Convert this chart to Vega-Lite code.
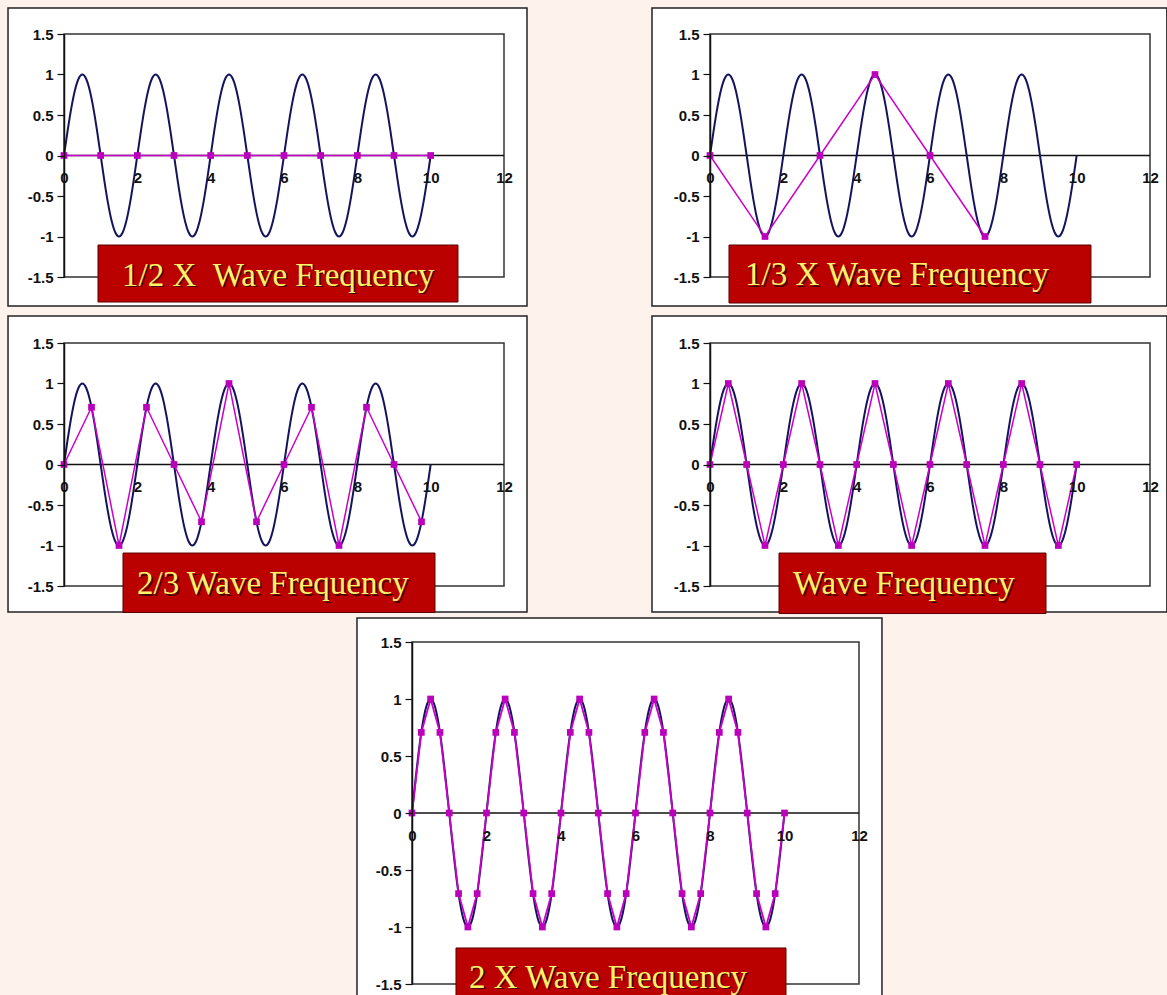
{
"$schema": "https://vega.github.io/schema/vega-lite/v6.json",
"background": "#fdf2ec",
"padding": {"left": 7, "top": 7, "right": 0, "bottom": 0},
"datasets": {
"sine": [
{"x":0,"y":0},{"x":0.1,"y":0.309},{"x":0.2,"y":0.588},{"x":0.3,"y":0.809},{"x":0.4,"y":0.951},{"x":0.5,"y":1},{"x":0.6,"y":0.951},{"x":0.7,"y":0.809},{"x":0.8,"y":0.588},{"x":0.9,"y":0.309},
{"x":1,"y":0},{"x":1.1,"y":-0.309},{"x":1.2,"y":-0.588},{"x":1.3,"y":-0.809},{"x":1.4,"y":-0.951},{"x":1.5,"y":-1},{"x":1.6,"y":-0.951},{"x":1.7,"y":-0.809},{"x":1.8,"y":-0.588},{"x":1.9,"y":-0.309},
{"x":2,"y":0},{"x":2.1,"y":0.309},{"x":2.2,"y":0.588},{"x":2.3,"y":0.809},{"x":2.4,"y":0.951},{"x":2.5,"y":1},{"x":2.6,"y":0.951},{"x":2.7,"y":0.809},{"x":2.8,"y":0.588},{"x":2.9,"y":0.309},
{"x":3,"y":0},{"x":3.1,"y":-0.309},{"x":3.2,"y":-0.588},{"x":3.3,"y":-0.809},{"x":3.4,"y":-0.951},{"x":3.5,"y":-1},{"x":3.6,"y":-0.951},{"x":3.7,"y":-0.809},{"x":3.8,"y":-0.588},{"x":3.9,"y":-0.309},
{"x":4,"y":0},{"x":4.1,"y":0.309},{"x":4.2,"y":0.588},{"x":4.3,"y":0.809},{"x":4.4,"y":0.951},{"x":4.5,"y":1},{"x":4.6,"y":0.951},{"x":4.7,"y":0.809},{"x":4.8,"y":0.588},{"x":4.9,"y":0.309},
{"x":5,"y":0},{"x":5.1,"y":-0.309},{"x":5.2,"y":-0.588},{"x":5.3,"y":-0.809},{"x":5.4,"y":-0.951},{"x":5.5,"y":-1},{"x":5.6,"y":-0.951},{"x":5.7,"y":-0.809},{"x":5.8,"y":-0.588},{"x":5.9,"y":-0.309},
{"x":6,"y":0},{"x":6.1,"y":0.309},{"x":6.2,"y":0.588},{"x":6.3,"y":0.809},{"x":6.4,"y":0.951},{"x":6.5,"y":1},{"x":6.6,"y":0.951},{"x":6.7,"y":0.809},{"x":6.8,"y":0.588},{"x":6.9,"y":0.309},
{"x":7,"y":0},{"x":7.1,"y":-0.309},{"x":7.2,"y":-0.588},{"x":7.3,"y":-0.809},{"x":7.4,"y":-0.951},{"x":7.5,"y":-1},{"x":7.6,"y":-0.951},{"x":7.7,"y":-0.809},{"x":7.8,"y":-0.588},{"x":7.9,"y":-0.309},
{"x":8,"y":0},{"x":8.1,"y":0.309},{"x":8.2,"y":0.588},{"x":8.3,"y":0.809},{"x":8.4,"y":0.951},{"x":8.5,"y":1},{"x":8.6,"y":0.951},{"x":8.7,"y":0.809},{"x":8.8,"y":0.588},{"x":8.9,"y":0.309},
{"x":9,"y":0},{"x":9.1,"y":-0.309},{"x":9.2,"y":-0.588},{"x":9.3,"y":-0.809},{"x":9.4,"y":-0.951},{"x":9.5,"y":-1},{"x":9.6,"y":-0.951},{"x":9.7,"y":-0.809},{"x":9.8,"y":-0.588},{"x":9.9,"y":-0.309},
{"x":10,"y":0}
],
"half": [
{"x":0,"y":0},{"x":1,"y":0},{"x":2,"y":0},{"x":3,"y":0},{"x":4,"y":0},{"x":5,"y":0},{"x":6,"y":0},{"x":7,"y":0},{"x":8,"y":0},{"x":9,"y":0},{"x":10,"y":0}
],
"third": [
{"x":0,"y":0},{"x":1.5,"y":-1},{"x":3,"y":0},{"x":4.5,"y":1},{"x":6,"y":0},{"x":7.5,"y":-1}
],
"twothirds": [
{"x":0,"y":0},{"x":0.75,"y":0.707},{"x":1.5,"y":-1},{"x":2.25,"y":0.707},{"x":3,"y":0},{"x":3.75,"y":-0.707},{"x":4.5,"y":1},{"x":5.25,"y":-0.707},{"x":6,"y":0},{"x":6.75,"y":0.707},{"x":7.5,"y":-1},{"x":8.25,"y":0.707},{"x":9,"y":0},{"x":9.75,"y":-0.707}
],
"single": [
{"x":0,"y":0},{"x":0.5,"y":1},{"x":1,"y":0},{"x":1.5,"y":-1},{"x":2,"y":0},{"x":2.5,"y":1},{"x":3,"y":0},{"x":3.5,"y":-1},{"x":4,"y":0},{"x":4.5,"y":1},{"x":5,"y":0},{"x":5.5,"y":-1},{"x":6,"y":0},{"x":6.5,"y":1},{"x":7,"y":0},{"x":7.5,"y":-1},{"x":8,"y":0},{"x":8.5,"y":1},{"x":9,"y":0},{"x":9.5,"y":-1},{"x":10,"y":0}
],
"double": [
{"x":0,"y":0},{"x":0.25,"y":0.707},{"x":0.5,"y":1},{"x":0.75,"y":0.707},{"x":1,"y":0},{"x":1.25,"y":-0.707},{"x":1.5,"y":-1},{"x":1.75,"y":-0.707},
{"x":2,"y":0},{"x":2.25,"y":0.707},{"x":2.5,"y":1},{"x":2.75,"y":0.707},{"x":3,"y":0},{"x":3.25,"y":-0.707},{"x":3.5,"y":-1},{"x":3.75,"y":-0.707},
{"x":4,"y":0},{"x":4.25,"y":0.707},{"x":4.5,"y":1},{"x":4.75,"y":0.707},{"x":5,"y":0},{"x":5.25,"y":-0.707},{"x":5.5,"y":-1},{"x":5.75,"y":-0.707},
{"x":6,"y":0},{"x":6.25,"y":0.707},{"x":6.5,"y":1},{"x":6.75,"y":0.707},{"x":7,"y":0},{"x":7.25,"y":-0.707},{"x":7.5,"y":-1},{"x":7.75,"y":-0.707},
{"x":8,"y":0},{"x":8.25,"y":0.707},{"x":8.5,"y":1},{"x":8.75,"y":0.707},{"x":9,"y":0},{"x":9.25,"y":-0.707},{"x":9.5,"y":-1},{"x":9.75,"y":-0.707},
{"x":10,"y":0}
]
},
"config": {
"view": {"stroke": null},
"axis": {"grid": false, "labelFont": "Liberation Sans", "labelFontSize": 15, "labelFontWeight": "bold", "labelColor": "#111111", "domainColor": "#111111", "tickColor": "#111111", "domainWidth": 1.5, "tickWidth": 1.2},
"axisX": {"domain": false, "ticks": false, "labelPadding": 15, "labelFlush": false},
"axisY": {"tickSize": 7, "labelPadding": 4},
"line": {"strokeCap": "butt"}
},
"spacing": 2,
"vconcat": [
{"spacing": 8, "vconcat": [
{"spacing": 123, "hconcat": [
{"width": 440, "height": 243, "layer": [
{"data": {"values": [{}]}, "mark": {"type": "rect", "fill": "#ffffff", "stroke": "#222222", "strokeWidth": 1.5},
 "encoding": {"x": {"datum": -1.527, "type": "quantitative", "scale": {"domain": [0, 12], "nice": false}, "axis": {"title": null, "zindex": 1, "values": [0,2,4,6,8,10,12], "labelExpr": "'' + datum.value", "offset": -121.5}},
  "x2": {"datum": 12.627},
  "y": {"datum": 1.821, "type": "quantitative", "scale": {"domain": [-1.5, 1.5], "nice": false}, "axis": {"title": null, "zindex": 1, "values": [-1.5,-1,-0.5,0,0.5,1,1.5], "labelExpr": "'' + datum.value"}},
  "y2": {"datum": -1.858}}},
{"data": {"values": [{}]}, "mark": {"type": "rect", "filled": false, "stroke": "#333333", "strokeWidth": 1.5},
 "encoding": {"x": {"datum": 0, "type": "quantitative", "scale": {"domain": [0, 12], "nice": false}}, "x2": {"datum": 12},
  "y": {"datum": -1.5, "type": "quantitative", "scale": {"domain": [-1.5, 1.5], "nice": false}}, "y2": {"datum": 1.5}}},
{"data": {"values": [{}]}, "mark": {"type": "rule", "color": "#111111", "strokeWidth": 1.5},
 "encoding": {"x": {"datum": 0, "type": "quantitative", "scale": {"domain": [0, 12], "nice": false}}, "x2": {"datum": 12},
  "y": {"datum": 0, "type": "quantitative", "scale": {"domain": [-1.5, 1.5], "nice": false}}}},
{"data": {"name": "sine"}, "mark": {"type": "line", "color": "#14145e", "strokeWidth": 2, "interpolate": "monotone"},
 "encoding": {"x": {"field": "x", "type": "quantitative", "scale": {"domain": [0, 12], "nice": false}}, "y": {"field": "y", "type": "quantitative", "scale": {"domain": [-1.5, 1.5], "nice": false}}}},
{"data": {"name": "half"}, "mark": {"type": "line", "color": "#cc00cc", "strokeWidth": 1.5},
 "encoding": {"x": {"field": "x", "type": "quantitative", "scale": {"domain": [0, 12], "nice": false}}, "y": {"field": "y", "type": "quantitative", "scale": {"domain": [-1.5, 1.5], "nice": false}}}},
{"data": {"name": "half"}, "mark": {"type": "square", "color": "#bb00bb", "size": 45, "opacity": 1},
 "encoding": {"x": {"field": "x", "type": "quantitative", "scale": {"domain": [0, 12], "nice": false}}, "y": {"field": "y", "type": "quantitative", "scale": {"domain": [-1.5, 1.5], "nice": false}}}},
{"data": {"values": [{}]}, "mark": {"type": "rect", "fill": "#bb0000", "stroke": "#5a0000", "strokeWidth": 1},
 "encoding": {"x": {"datum": 0.927, "type": "quantitative", "scale": {"domain": [0, 12], "nice": false}}, "x2": {"datum": 10.745},
  "y": {"datum": -1.105, "type": "quantitative", "scale": {"domain": [-1.5, 1.5], "nice": false}}, "y2": {"datum": -1.809}}},
{"data": {"values": [{}]}, "mark": {"type": "text", "text": "1/2 X \u00a0Wave Frequency", "font": "Liberation Serif", "fontSize": 33, "color": "#4a0000", "dx": 1.5, "dy": 1.5, "align": "left", "baseline": "alphabetic"},
 "encoding": {"x": {"datum": 1.582, "type": "quantitative", "scale": {"domain": [0, 12], "nice": false}},
  "y": {"datum": -1.611, "type": "quantitative", "scale": {"domain": [-1.5, 1.5], "nice": false}}}},
{"data": {"values": [{}]}, "mark": {"type": "text", "text": "1/2 X \u00a0Wave Frequency", "font": "Liberation Serif", "fontSize": 33, "color": "#fff36a", "align": "left", "baseline": "alphabetic"},
 "encoding": {"x": {"datum": 1.582, "type": "quantitative", "scale": {"domain": [0, 12], "nice": false}},
  "y": {"datum": -1.611, "type": "quantitative", "scale": {"domain": [-1.5, 1.5], "nice": false}}}}
]},
{"width": 440, "height": 243, "layer": [
{"data": {"values": [{}]}, "mark": {"type": "rect", "fill": "#ffffff", "stroke": "#222222", "strokeWidth": 1.5},
 "encoding": {"x": {"datum": -1.582, "type": "quantitative", "scale": {"domain": [0, 12], "nice": false}, "axis": {"title": null, "zindex": 1, "values": [0,2,4,6,8,10,12], "labelExpr": "'' + datum.value", "offset": -121.5}},
  "x2": {"datum": 12.46},
  "y": {"datum": 1.821, "type": "quantitative", "scale": {"domain": [-1.5, 1.5], "nice": false}, "axis": {"title": null, "zindex": 1, "values": [-1.5,-1,-0.5,0,0.5,1,1.5], "labelExpr": "'' + datum.value"}},
  "y2": {"datum": -1.858}}},
{"data": {"values": [{}]}, "mark": {"type": "rect", "filled": false, "stroke": "#333333", "strokeWidth": 1.5},
 "encoding": {"x": {"datum": 0, "type": "quantitative", "scale": {"domain": [0, 12], "nice": false}}, "x2": {"datum": 12},
  "y": {"datum": -1.5, "type": "quantitative", "scale": {"domain": [-1.5, 1.5], "nice": false}}, "y2": {"datum": 1.5}}},
{"data": {"values": [{}]}, "mark": {"type": "rule", "color": "#111111", "strokeWidth": 1.5},
 "encoding": {"x": {"datum": 0, "type": "quantitative", "scale": {"domain": [0, 12], "nice": false}}, "x2": {"datum": 12},
  "y": {"datum": 0, "type": "quantitative", "scale": {"domain": [-1.5, 1.5], "nice": false}}}},
{"data": {"name": "sine"}, "mark": {"type": "line", "color": "#14145e", "strokeWidth": 2, "interpolate": "monotone"},
 "encoding": {"x": {"field": "x", "type": "quantitative", "scale": {"domain": [0, 12], "nice": false}}, "y": {"field": "y", "type": "quantitative", "scale": {"domain": [-1.5, 1.5], "nice": false}}}},
{"data": {"name": "third"}, "mark": {"type": "line", "color": "#cc00cc", "strokeWidth": 1.5},
 "encoding": {"x": {"field": "x", "type": "quantitative", "scale": {"domain": [0, 12], "nice": false}}, "y": {"field": "y", "type": "quantitative", "scale": {"domain": [-1.5, 1.5], "nice": false}}}},
{"data": {"name": "third"}, "mark": {"type": "square", "color": "#bb00bb", "size": 45, "opacity": 1},
 "encoding": {"x": {"field": "x", "type": "quantitative", "scale": {"domain": [0, 12], "nice": false}}, "y": {"field": "y", "type": "quantitative", "scale": {"domain": [-1.5, 1.5], "nice": false}}}},
{"data": {"values": [{}]}, "mark": {"type": "rect", "fill": "#bb0000", "stroke": "#5a0000", "strokeWidth": 1},
 "encoding": {"x": {"datum": 0.518, "type": "quantitative", "scale": {"domain": [0, 12], "nice": false}}, "x2": {"datum": 10.39},
  "y": {"datum": -1.105, "type": "quantitative", "scale": {"domain": [-1.5, 1.5], "nice": false}}, "y2": {"datum": -1.821}}},
{"data": {"values": [{}]}, "mark": {"type": "text", "text": "1/3 X Wave Frequency", "font": "Liberation Serif", "fontSize": 33, "color": "#4a0000", "dx": 1.5, "dy": 1.5, "align": "left", "baseline": "alphabetic"},
 "encoding": {"x": {"datum": 0.955, "type": "quantitative", "scale": {"domain": [0, 12], "nice": false}},
  "y": {"datum": -1.6, "type": "quantitative", "scale": {"domain": [-1.5, 1.5], "nice": false}}}},
{"data": {"values": [{}]}, "mark": {"type": "text", "text": "1/3 X Wave Frequency", "font": "Liberation Serif", "fontSize": 33, "color": "#fff36a", "align": "left", "baseline": "alphabetic"},
 "encoding": {"x": {"datum": 0.955, "type": "quantitative", "scale": {"domain": [0, 12], "nice": false}},
  "y": {"datum": -1.6, "type": "quantitative", "scale": {"domain": [-1.5, 1.5], "nice": false}}}}
]}
]},
{"spacing": 123, "hconcat": [
{"width": 440, "height": 243, "layer": [
{"data": {"values": [{}]}, "mark": {"type": "rect", "fill": "#ffffff", "stroke": "#222222", "strokeWidth": 1.5},
 "encoding": {"x": {"datum": -1.527, "type": "quantitative", "scale": {"domain": [0, 12], "nice": false}, "axis": {"title": null, "zindex": 1, "values": [0,2,4,6,8,10,12], "labelExpr": "'' + datum.value", "offset": -121.5}},
  "x2": {"datum": 12.627},
  "y": {"datum": 1.833, "type": "quantitative", "scale": {"domain": [-1.5, 1.5], "nice": false}, "axis": {"title": null, "zindex": 1, "values": [-1.5,-1,-0.5,0,0.5,1,1.5], "labelExpr": "'' + datum.value"}},
  "y2": {"datum": -1.821}}},
{"data": {"values": [{}]}, "mark": {"type": "rect", "filled": false, "stroke": "#333333", "strokeWidth": 1.5},
 "encoding": {"x": {"datum": 0, "type": "quantitative", "scale": {"domain": [0, 12], "nice": false}}, "x2": {"datum": 12},
  "y": {"datum": -1.5, "type": "quantitative", "scale": {"domain": [-1.5, 1.5], "nice": false}}, "y2": {"datum": 1.5}}},
{"data": {"values": [{}]}, "mark": {"type": "rule", "color": "#111111", "strokeWidth": 1.5},
 "encoding": {"x": {"datum": 0, "type": "quantitative", "scale": {"domain": [0, 12], "nice": false}}, "x2": {"datum": 12},
  "y": {"datum": 0, "type": "quantitative", "scale": {"domain": [-1.5, 1.5], "nice": false}}}},
{"data": {"name": "sine"}, "mark": {"type": "line", "color": "#14145e", "strokeWidth": 2, "interpolate": "monotone"},
 "encoding": {"x": {"field": "x", "type": "quantitative", "scale": {"domain": [0, 12], "nice": false}}, "y": {"field": "y", "type": "quantitative", "scale": {"domain": [-1.5, 1.5], "nice": false}}}},
{"data": {"name": "twothirds"}, "mark": {"type": "line", "color": "#cc00cc", "strokeWidth": 1.5},
 "encoding": {"x": {"field": "x", "type": "quantitative", "scale": {"domain": [0, 12], "nice": false}}, "y": {"field": "y", "type": "quantitative", "scale": {"domain": [-1.5, 1.5], "nice": false}}}},
{"data": {"name": "twothirds"}, "mark": {"type": "square", "color": "#bb00bb", "size": 45, "opacity": 1},
 "encoding": {"x": {"field": "x", "type": "quantitative", "scale": {"domain": [0, 12], "nice": false}}, "y": {"field": "y", "type": "quantitative", "scale": {"domain": [-1.5, 1.5], "nice": false}}}},
{"data": {"values": [{}]}, "mark": {"type": "rect", "fill": "#bb0000", "stroke": "#5a0000", "strokeWidth": 1},
 "encoding": {"x": {"datum": 1.609, "type": "quantitative", "scale": {"domain": [0, 12], "nice": false}}, "x2": {"datum": 10.118},
  "y": {"datum": -1.093, "type": "quantitative", "scale": {"domain": [-1.5, 1.5], "nice": false}}, "y2": {"datum": -1.827}}},
{"data": {"values": [{}]}, "mark": {"type": "text", "text": "2/3 Wave Frequency", "font": "Liberation Serif", "fontSize": 33, "color": "#4a0000", "dx": 1.5, "dy": 1.5, "align": "left", "baseline": "alphabetic"},
 "encoding": {"x": {"datum": 1.991, "type": "quantitative", "scale": {"domain": [0, 12], "nice": false}},
  "y": {"datum": -1.6, "type": "quantitative", "scale": {"domain": [-1.5, 1.5], "nice": false}}}},
{"data": {"values": [{}]}, "mark": {"type": "text", "text": "2/3 Wave Frequency", "font": "Liberation Serif", "fontSize": 33, "color": "#fff36a", "align": "left", "baseline": "alphabetic"},
 "encoding": {"x": {"datum": 1.991, "type": "quantitative", "scale": {"domain": [0, 12], "nice": false}},
  "y": {"datum": -1.6, "type": "quantitative", "scale": {"domain": [-1.5, 1.5], "nice": false}}}}
]},
{"width": 440, "height": 243, "layer": [
{"data": {"values": [{}]}, "mark": {"type": "rect", "fill": "#ffffff", "stroke": "#222222", "strokeWidth": 1.5},
 "encoding": {"x": {"datum": -1.582, "type": "quantitative", "scale": {"domain": [0, 12], "nice": false}, "axis": {"title": null, "zindex": 1, "values": [0,2,4,6,8,10,12], "labelExpr": "'' + datum.value", "offset": -121.5}},
  "x2": {"datum": 12.46},
  "y": {"datum": 1.833, "type": "quantitative", "scale": {"domain": [-1.5, 1.5], "nice": false}, "axis": {"title": null, "zindex": 1, "values": [-1.5,-1,-0.5,0,0.5,1,1.5], "labelExpr": "'' + datum.value"}},
  "y2": {"datum": -1.821}}},
{"data": {"values": [{}]}, "mark": {"type": "rect", "filled": false, "stroke": "#333333", "strokeWidth": 1.5},
 "encoding": {"x": {"datum": 0, "type": "quantitative", "scale": {"domain": [0, 12], "nice": false}}, "x2": {"datum": 12},
  "y": {"datum": -1.5, "type": "quantitative", "scale": {"domain": [-1.5, 1.5], "nice": false}}, "y2": {"datum": 1.5}}},
{"data": {"values": [{}]}, "mark": {"type": "rule", "color": "#111111", "strokeWidth": 1.5},
 "encoding": {"x": {"datum": 0, "type": "quantitative", "scale": {"domain": [0, 12], "nice": false}}, "x2": {"datum": 12},
  "y": {"datum": 0, "type": "quantitative", "scale": {"domain": [-1.5, 1.5], "nice": false}}}},
{"data": {"name": "sine"}, "mark": {"type": "line", "color": "#14145e", "strokeWidth": 2, "interpolate": "monotone"},
 "encoding": {"x": {"field": "x", "type": "quantitative", "scale": {"domain": [0, 12], "nice": false}}, "y": {"field": "y", "type": "quantitative", "scale": {"domain": [-1.5, 1.5], "nice": false}}}},
{"data": {"name": "single"}, "mark": {"type": "line", "color": "#cc00cc", "strokeWidth": 1.5},
 "encoding": {"x": {"field": "x", "type": "quantitative", "scale": {"domain": [0, 12], "nice": false}}, "y": {"field": "y", "type": "quantitative", "scale": {"domain": [-1.5, 1.5], "nice": false}}}},
{"data": {"name": "single"}, "mark": {"type": "square", "color": "#bb00bb", "size": 45, "opacity": 1},
 "encoding": {"x": {"field": "x", "type": "quantitative", "scale": {"domain": [0, 12], "nice": false}}, "y": {"field": "y", "type": "quantitative", "scale": {"domain": [-1.5, 1.5], "nice": false}}}},
{"data": {"values": [{}]}, "mark": {"type": "rect", "fill": "#bb0000", "stroke": "#5a0000", "strokeWidth": 1},
 "encoding": {"x": {"datum": 1.882, "type": "quantitative", "scale": {"domain": [0, 12], "nice": false}}, "x2": {"datum": 9.164},
  "y": {"datum": -1.093, "type": "quantitative", "scale": {"domain": [-1.5, 1.5], "nice": false}}, "y2": {"datum": -1.84}}},
{"data": {"values": [{}]}, "mark": {"type": "text", "text": "Wave Frequency", "font": "Liberation Serif", "fontSize": 33, "color": "#4a0000", "dx": 1.5, "dy": 1.5, "align": "left", "baseline": "alphabetic"},
 "encoding": {"x": {"datum": 2.264, "type": "quantitative", "scale": {"domain": [0, 12], "nice": false}},
  "y": {"datum": -1.6, "type": "quantitative", "scale": {"domain": [-1.5, 1.5], "nice": false}}}},
{"data": {"values": [{}]}, "mark": {"type": "text", "text": "Wave Frequency", "font": "Liberation Serif", "fontSize": 33, "color": "#fff36a", "align": "left", "baseline": "alphabetic"},
 "encoding": {"x": {"datum": 2.264, "type": "quantitative", "scale": {"domain": [0, 12], "nice": false}},
  "y": {"datum": -1.6, "type": "quantitative", "scale": {"domain": [-1.5, 1.5], "nice": false}}}}
]}
]}
]},
{"spacing": 0, "hconcat": [
{"width": 292, "height": 20, "data": {"values": []}, "mark": "point"},
{"width": 447, "height": 342, "layer": [
{"data": {"values": [{}]}, "mark": {"type": "rect", "fill": "#ffffff", "stroke": "#222222", "strokeWidth": 1.5},
 "encoding": {"x": {"datum": -1.477, "type": "quantitative", "scale": {"domain": [0, 12], "nice": false}, "axis": {"title": null, "zindex": 1, "values": [0,2,4,6,8,10,12], "labelExpr": "'' + datum.value", "offset": -171}},
  "x2": {"datum": 12.617},
  "y": {"datum": 1.711, "type": "quantitative", "scale": {"domain": [-1.5, 1.5], "nice": false}, "axis": {"title": null, "zindex": 1, "values": [-1.5,-1,-0.5,0,0.5,1,1.5], "labelExpr": "'' + datum.value"}},
  "y2": {"datum": -2.0}}},
{"data": {"values": [{}]}, "mark": {"type": "rect", "filled": false, "stroke": "#333333", "strokeWidth": 1.5},
 "encoding": {"x": {"datum": 0, "type": "quantitative", "scale": {"domain": [0, 12], "nice": false}}, "x2": {"datum": 12},
  "y": {"datum": -1.5, "type": "quantitative", "scale": {"domain": [-1.5, 1.5], "nice": false}}, "y2": {"datum": 1.5}}},
{"data": {"values": [{}]}, "mark": {"type": "rule", "color": "#111111", "strokeWidth": 1.5},
 "encoding": {"x": {"datum": 0, "type": "quantitative", "scale": {"domain": [0, 12], "nice": false}}, "x2": {"datum": 12},
  "y": {"datum": 0, "type": "quantitative", "scale": {"domain": [-1.5, 1.5], "nice": false}}}},
{"data": {"name": "sine"}, "mark": {"type": "line", "color": "#14145e", "strokeWidth": 2, "interpolate": "monotone"},
 "encoding": {"x": {"field": "x", "type": "quantitative", "scale": {"domain": [0, 12], "nice": false}}, "y": {"field": "y", "type": "quantitative", "scale": {"domain": [-1.5, 1.5], "nice": false}}}},
{"data": {"name": "double"}, "mark": {"type": "line", "color": "#cc00cc", "strokeWidth": 1.8},
 "encoding": {"x": {"field": "x", "type": "quantitative", "scale": {"domain": [0, 12], "nice": false}}, "y": {"field": "y", "type": "quantitative", "scale": {"domain": [-1.5, 1.5], "nice": false}}}},
{"data": {"name": "double"}, "mark": {"type": "square", "color": "#bb00bb", "size": 45, "opacity": 1},
 "encoding": {"x": {"field": "x", "type": "quantitative", "scale": {"domain": [0, 12], "nice": false}}, "y": {"field": "y", "type": "quantitative", "scale": {"domain": [-1.5, 1.5], "nice": false}}}},
{"data": {"values": [{}]}, "mark": {"type": "rect", "fill": "#bb0000", "stroke": "#5a0000", "strokeWidth": 1},
 "encoding": {"x": {"datum": 1.181, "type": "quantitative", "scale": {"domain": [0, 12], "nice": false}}, "x2": {"datum": 10.04},
  "y": {"datum": -1.184, "type": "quantitative", "scale": {"domain": [-1.5, 1.5], "nice": false}}, "y2": {"datum": -1.75}}},
{"data": {"values": [{}]}, "mark": {"type": "text", "text": "2 X Wave Frequency", "font": "Liberation Serif", "fontSize": 33, "color": "#4a0000", "dx": 1.5, "dy": 1.5, "align": "left", "baseline": "alphabetic"},
 "encoding": {"x": {"datum": 1.53, "type": "quantitative", "scale": {"domain": [0, 12], "nice": false}},
  "y": {"datum": -1.535, "type": "quantitative", "scale": {"domain": [-1.5, 1.5], "nice": false}}}},
{"data": {"values": [{}]}, "mark": {"type": "text", "text": "2 X Wave Frequency", "font": "Liberation Serif", "fontSize": 33, "color": "#fff36a", "align": "left", "baseline": "alphabetic"},
 "encoding": {"x": {"datum": 1.53, "type": "quantitative", "scale": {"domain": [0, 12], "nice": false}},
  "y": {"datum": -1.535, "type": "quantitative", "scale": {"domain": [-1.5, 1.5], "nice": false}}}}
]}
]}
]
}
